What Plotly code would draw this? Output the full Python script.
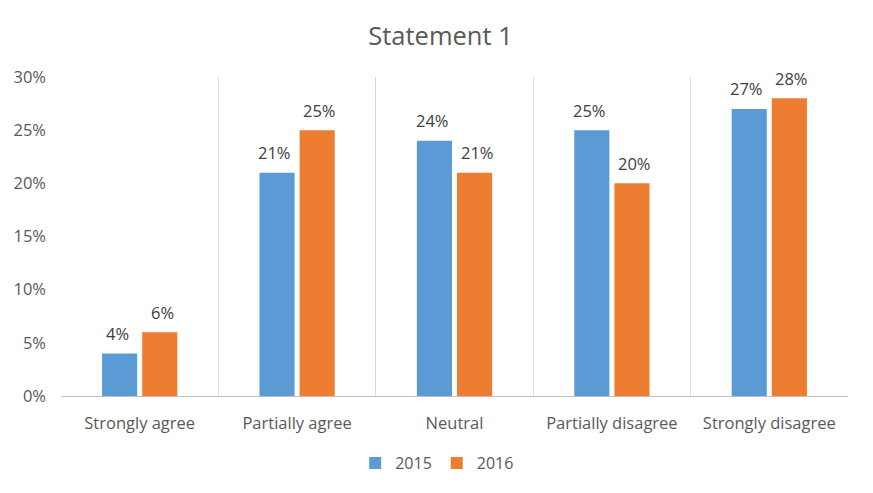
import plotly.graph_objects as go

categories = ["Strongly agree", "Partially agree", "Neutral", "Partially disagree", "Strongly disagree"]
values_2015 = [0.04, 0.21, 0.24, 0.25, 0.27]
values_2016 = [0.06, 0.25, 0.21, 0.20, 0.28]
series_names = ["2015", "2016"]
colors = ["#5B9BD5", "#ED7D31"]
label_shift = [-22.5, 22.5]

FONT = "Open Sans, Lato, sans-serif"

fig = go.Figure()
annotations = []
for name, vals, col, dx in zip(series_names, [values_2015, values_2016], colors, label_shift):
    fig.add_trace(go.Bar(x=categories, y=vals, name=name, marker_color=col, marker_line_width=0))
    for c, v in zip(categories, vals):
        annotations.append(dict(
            x=c, y=v, text=f"{round(v*100)}%", showarrow=False,
            xshift=dx, yshift=20, yanchor="middle", xanchor="center",
            font=dict(family=FONT, size=16.5, color="#404040"),
        ))

# page body has an 8px offset; size the figure to fit the window
fig.update_layout(
    width=865, height=485,
    margin=dict(l=53, r=25, t=69, b=97, autoexpand=False),
    paper_bgcolor="white", plot_bgcolor="white",
    font=dict(family=FONT, color="#595959", size=16),
    title=dict(text="Statement 1", x=0.5, xanchor="center", y=1 - 28 / 485, yanchor="middle",
               font=dict(family=FONT, size=25.5, color="#595959")),
    barmode="group", bargap=0.49, bargroupgap=0.125,
    legend=dict(orientation="h", x=0.478, xanchor="center", y=-0.21, yanchor="middle",
                font=dict(family=FONT, size=16, color="#595959"), tracegroupgap=0,
                itemwidth=30),
    annotations=annotations,
    showlegend=True,
)
fig.update_xaxes(
    automargin=False,
    tickson="boundaries", showgrid=True, gridcolor="#D9D9D9", gridwidth=1,
    showline=True, linecolor="#BFBFBF", linewidth=1, ticks="", ticklen=0,
    ticklabelstandoff=12,
    tickfont=dict(family=FONT, size=16.5, color="#595959"),
)
fig.update_yaxes(
    automargin=False,
    range=[0, 0.30], dtick=0.05, tickformat=".0%", showgrid=False, zeroline=False,
    showline=False, ticks="", ticklabelstandoff=14,
    tickfont=dict(family=FONT, size=16.5, color="#595959"),
)

fig.write_html("out.html")
